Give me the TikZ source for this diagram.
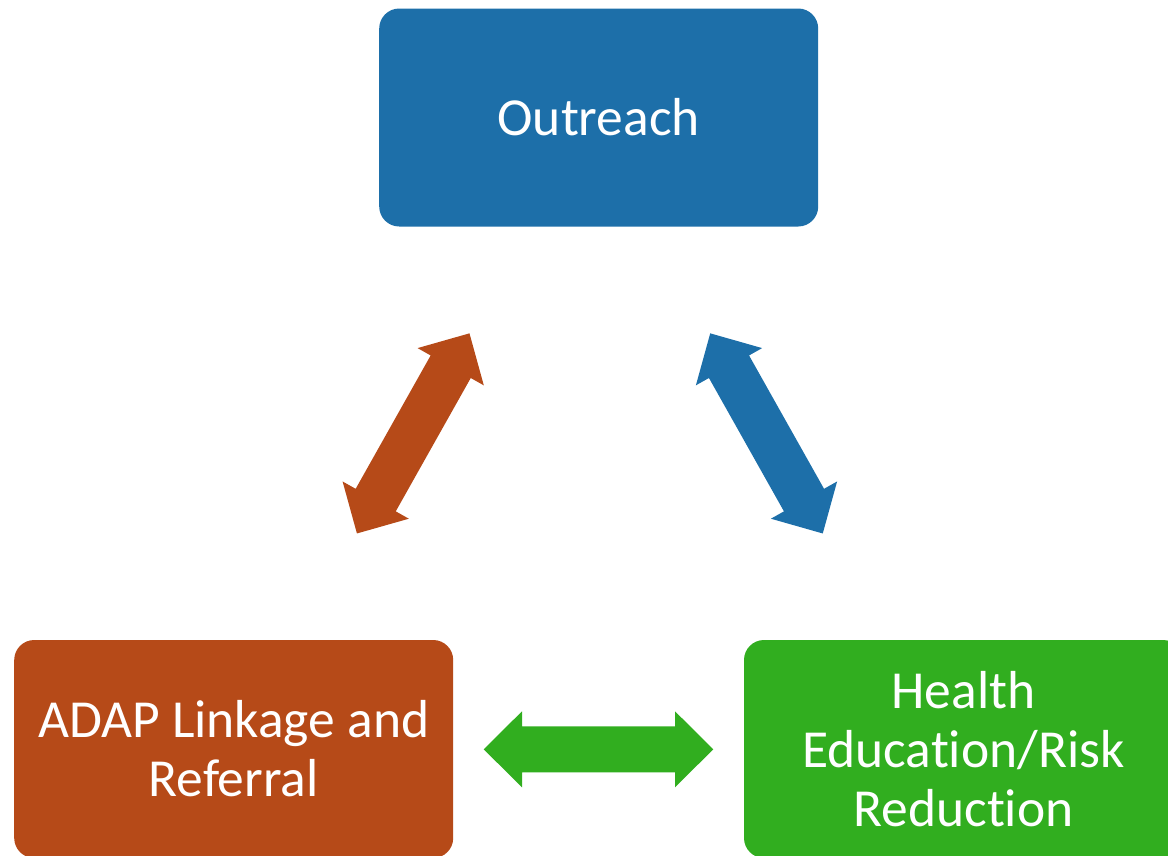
\documentclass[tikz,border=0pt]{standalone}
\usepackage{fontspec}
\setmainfont[Ligatures={NoCommon}]{Carlito}
\definecolor{cblue}{HTML}{1D6FA9}
\definecolor{corange}{HTML}{B64A18}
\definecolor{cgreen}{HTML}{31AE1F}
\tikzset{
  box/.style={rounded corners=20pt, minimum width=439pt, minimum height=218pt,
    inner sep=0pt, align=center, text=white,
    font=\fontsize{53.5}{59}\selectfont},
}
\newcommand{\dblarr}[3]{%
  \fill[#3, shift={(#1)}, rotate=#2]
    (-114.8,0) -- (-76.5,-38) -- (-76.5,-23) -- (76.5,-23) -- (76.5,-38)
    -- (114.8,0) -- (76.5,38) -- (76.5,23) -- (-76.5,23) -- (-76.5,38) -- cycle;}
\begin{document}
\begin{tikzpicture}[x=1pt,y=-1pt]
\useasboundingbox (0,0) rectangle (1168,855);
\clip (0,0) rectangle (1168,855);
\node[box, fill=cblue] (out) at (598.7,117.5) {Outreach};
\node[box, fill=corange] (adap) at (233.7,749) {ADAP Linkage and\\Referral};
\node[box, fill=cgreen] (hed) at (963.5,749) {Health\\Education/Risk\\Reduction};
\coordinate (aL) at (413.2,433.4);
\coordinate (aR) at (766.5,433.4);
\coordinate (aB) at (598.5,749.3);
\dblarr{aL}{60.65}{corange}
\dblarr{aR}{-60.65}{cblue}
\dblarr{aB}{0}{cgreen}
\end{tikzpicture}
\end{document}
